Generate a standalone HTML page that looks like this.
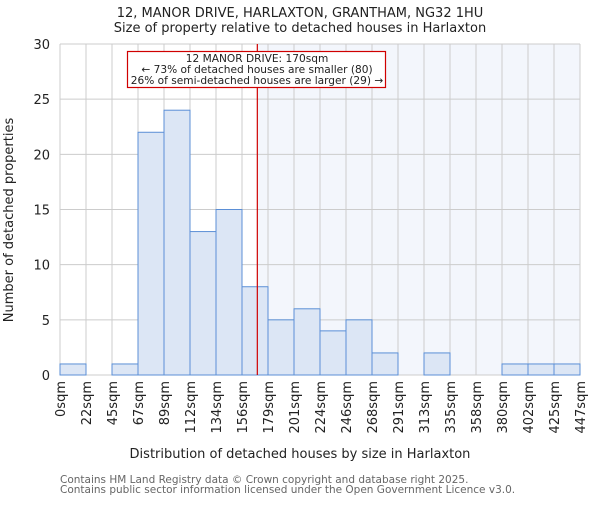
<!DOCTYPE html>
<html><head><meta charset="utf-8"><style>
body{margin:0;background:#fff}
svg{font-family:"DejaVu Sans","Liberation Sans",sans-serif}
</style></head><body>
<svg id="c" width="600" height="500">
<text x="300" y="17" text-anchor="middle" font-size="13" fill="#222">12, MANOR DRIVE, HARLAXTON, GRANTHAM, NG32 1HU</text>
<text x="300" y="32" text-anchor="middle" font-size="13" fill="#222">Size of property relative to detached houses in Harlaxton</text>
<g id="plot"></g>
<text x="300" y="458" text-anchor="middle" font-size="13" fill="#222">Distribution of detached houses by size in Harlaxton</text>
<text transform="translate(13,220) rotate(-90)" text-anchor="middle" font-size="13" fill="#222">Number of detached properties</text>
<text x="60" y="483" font-size="10.5" fill="#666">Contains HM Land Registry data © Crown copyright and database right 2025.</text>
<text x="60" y="493" font-size="10.5" fill="#666">Contains public sector information licensed under the Open Government Licence v3.0.</text>
</svg>
<script>
const binLabels=["0sqm","22sqm","45sqm","67sqm","89sqm","112sqm","134sqm","156sqm","179sqm","201sqm","224sqm","246sqm","268sqm","291sqm","313sqm","335sqm","358sqm","380sqm","402sqm","425sqm","447sqm"];
const binEdges=[0,22.4,44.8,67.2,89.6,112,134.4,156.8,179.2,201.6,224,246.4,268.8,291.2,313.6,336,358.4,380.8,403.2,425.6,448];
const counts=[1,0,1,22,24,13,15,8,5,6,4,5,2,0,2,0,0,1,1,1];
const yTicks=[0,5,10,15,20,25,30];
const propertySize=170;
const ns="http://www.w3.org/2000/svg";
const X0=60,X1=580,Y0=375,Y1=44;
const xs=v=>X0+(v-binEdges[0])/(binEdges[binEdges.length-1]-binEdges[0])*(X1-X0);
const ys=v=>Y0-v/30*(Y0-Y1);
const g=document.getElementById('plot');
function mk(t,a){const e=document.createElementNS(ns,t);for(const k in a)e.setAttribute(k,a[k]);g.appendChild(e);return e;}
const px=xs(propertySize);
let e=mk('rect',{x:px,y:Y1,width:X1-px,height:Y0-Y1,fill:'#f3f6fc'});


yTicks.forEach(t=>{
 let l=mk('line',{x1:X0,x2:X1,y1:ys(t),y2:ys(t),stroke:'#ccc','stroke-width':1});
 
 
 let tx=mk('text',{x:X0-10,y:ys(t)+5,'text-anchor':'end','font-size':13,fill:'#222'});
 tx.textContent=t;
 
 
});
binEdges.forEach((b,i)=>{
 let l=mk('line',{x1:xs(b),x2:xs(b),y1:Y1,y2:Y0,stroke:'#ccc','stroke-width':1});
 
 
 let tx=mk('text',{transform:`translate(${xs(b)+5},381) rotate(-90)`,'text-anchor':'end','font-size':13,fill:'#222'});
 tx.textContent=binLabels[i];
 
 
});
counts.forEach((c,i)=>{
 if(c<=0)return;
 let r=mk('rect',{x:xs(binEdges[i]),y:ys(c),width:xs(binEdges[i+1])-xs(binEdges[i]),height:Y0-ys(c),fill:'#dce6f5',stroke:'#5b8fd6','stroke-width':1});
 
 
});
let rl=mk('line',{x1:px,x2:px,y1:Y1,y2:Y0,stroke:'#d00000','stroke-width':1.2});


let bx=mk('rect',{x:127.5,y:51.5,width:258,height:36,fill:'#fff',stroke:'#d00000','stroke-width':1.2});


["12 MANOR DRIVE: 170sqm","← 73% of detached houses are smaller (80)","26% of semi-detached houses are larger (29) →"].forEach((s,i)=>{
 let t=mk('text',{x:257,y:62+i*11,'text-anchor':'middle','font-size':10.6,fill:'#222'});
 t.textContent=s;
 
 
});
</script>
</body></html>
